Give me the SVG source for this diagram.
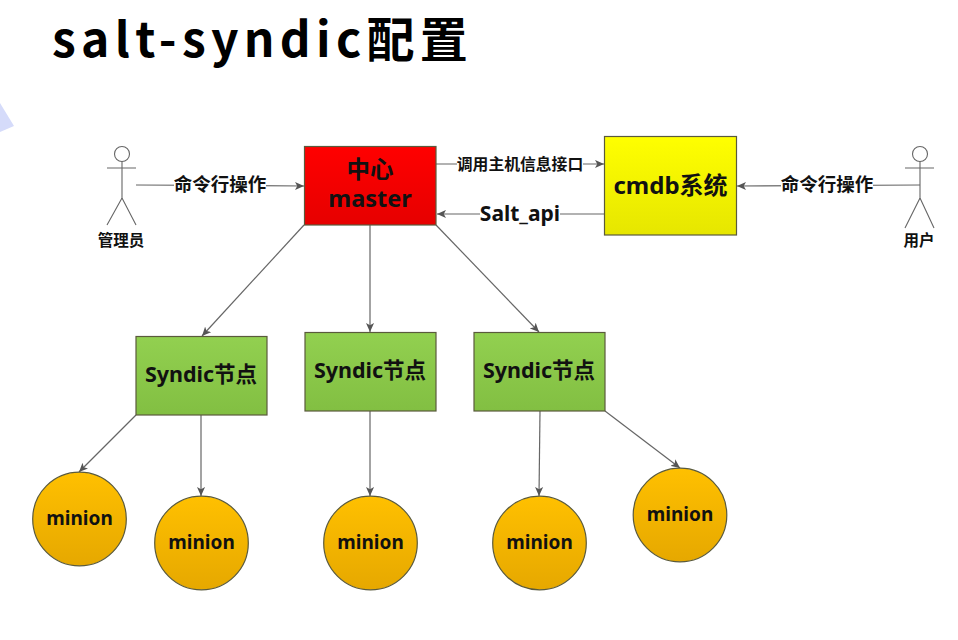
<svg xmlns="http://www.w3.org/2000/svg" width="958" height="640" viewBox="0 0 958 640">
<defs>
<marker id="arr" viewBox="0 0 10 10" refX="10" refY="5" markerWidth="9" markerHeight="9" markerUnits="userSpaceOnUse" orient="auto"><path d="M0,0.5 L10,5 L0,9.5 L2.5,5 Z" fill="#555"/></marker>
<linearGradient id="red" x1="0" y1="0" x2="0" y2="1"><stop offset="0" stop-color="#ff0000"/><stop offset="1" stop-color="#e60000"/></linearGradient>
<linearGradient id="yel" x1="0" y1="0" x2="0" y2="1"><stop offset="0" stop-color="#ffff00"/><stop offset="1" stop-color="#e6e600"/></linearGradient>
<linearGradient id="grn" x1="0" y1="0" x2="0" y2="1"><stop offset="0" stop-color="#92d050"/><stop offset="1" stop-color="#82bf42"/></linearGradient>
<linearGradient id="org" x1="0" y1="0" x2="0" y2="1"><stop offset="0" stop-color="#ffc000"/><stop offset="1" stop-color="#e6a800"/></linearGradient>
</defs>
<style>
text{font-family:"Noto Sans","Noto Sans CJK SC",sans-serif;fill:#111;font-weight:700;text-anchor:middle}
.t{font-size:48px;text-anchor:start;fill:#000;letter-spacing:5.3px;font-family:"Noto Sans CJK SC","Noto Sans",sans-serif}
.box{stroke:#5a5a3c;stroke-width:1.2}
.c{stroke:#666;stroke-width:1.2;fill:none}
.a{marker-end:url(#arr)}
.p{stroke:#666;stroke-width:1.1;fill:none}
.l{font-size:18.500px}
.s{font-size:15.800px}
.u{font-size:15.500px}
.api{font-size:21px}
.lbl{font-size:23.500px}
.cm{font-size:24px}
.syn{font-size:21.500px}
.min{font-size:19px}
.mask{fill:#fff}
</style>
<rect width="958" height="640" fill="#fff"/>
<polygon points="0,103 14,126 0,132" fill="#d5dbfa"/>
<text class="t" x="52" y="57">salt-syndic配置</text>

<g id="connectors">
<path class="c a" d="M136,185 L304,186"/>
<path class="c a" d="M436,164 L604,164"/>
<path class="c a" d="M604,214 L437,214"/>
<path class="c a" d="M920,185 L737,186"/>
<path class="c a" d="M304,225 L202,336"/>
<path class="c a" d="M370,225 L370,332"/>
<path class="c a" d="M436,225 L539,332"/>
<path class="c a" d="M136,415 L79,472"/>
<path class="c a" d="M201,415 L201,496"/>
<path class="c a" d="M370,411 L370,496"/>
<path class="c a" d="M540,411 L539,496"/>
<path class="c a" d="M605,411 L680,468"/>
<rect class="mask" x="174" y="174" width="92" height="22"/>
<rect class="mask" x="457" y="154" width="126" height="20"/>
<rect class="mask" x="480" y="202" width="80" height="24"/>
<rect class="mask" x="781" y="174" width="92" height="22"/>
<text class="l" x="220" y="191">命令行操作</text>
<text class="s" x="520" y="170">调用主机信息接口</text>
<text class="api" x="520" y="221">Salt_api</text>
<text class="l" x="827" y="191">命令行操作</text>
</g>

<g id="admin">
<circle class="p" cx="122" cy="154" r="7.500"/>
<path class="p" d="M122,161.500 V198 M107,168 H136 M122,198 L107,225 M122,198 L136,225"/>
<text class="u" x="121" y="246">管理员</text>
</g>
<g id="user">
<circle class="p" cx="920" cy="154" r="7.500"/>
<path class="p" d="M920,161.500 V198 M905,168 H934 M920,198 L905,228 M920,198 L934,228"/>
<text class="u" x="919" y="246">用户</text>
</g>
<g id="master">
<rect class="box" x="304.500" y="146.500" width="131.500" height="78.500" fill="url(#red)"/>
<text class="lbl" x="370" y="178">中心</text>
<text class="lbl" x="370" y="207">master</text>
</g>
<g id="cmdb">
<rect class="box" x="604.500" y="136.500" width="132" height="98.500" fill="url(#yel)"/>
<text class="cm" x="670.500" y="194">cmdb系统</text>
</g>
<g id="syndic1">
<rect class="box" x="136" y="336.500" width="131" height="78.500" fill="url(#grn)"/>
<text class="syn" x="201" y="382">Syndic节点</text>
</g>
<g id="syndic2">
<rect class="box" x="305" y="332.500" width="131" height="78.500" fill="url(#grn)"/>
<text class="syn" x="370" y="378">Syndic节点</text>
</g>
<g id="syndic3">
<rect class="box" x="474" y="332.500" width="131" height="78.500" fill="url(#grn)"/>
<text class="syn" x="539" y="378">Syndic节点</text>
</g>
<g id="minion1"><circle class="box" cx="79.500" cy="519" r="46.800" fill="url(#org)"/><text class="min" x="79.500" y="525">minion</text></g>
<g id="minion2"><circle class="box" cx="201.500" cy="543" r="46.800" fill="url(#org)"/><text class="min" x="201.500" y="549">minion</text></g>
<g id="minion3"><circle class="box" cx="370.500" cy="543" r="46.800" fill="url(#org)"/><text class="min" x="370.500" y="549">minion</text></g>
<g id="minion4"><circle class="box" cx="539.500" cy="543" r="46.800" fill="url(#org)"/><text class="min" x="539.500" y="549">minion</text></g>
<g id="minion5"><circle class="box" cx="680" cy="515" r="46.800" fill="url(#org)"/><text class="min" x="680" y="521">minion</text></g>
</svg>
